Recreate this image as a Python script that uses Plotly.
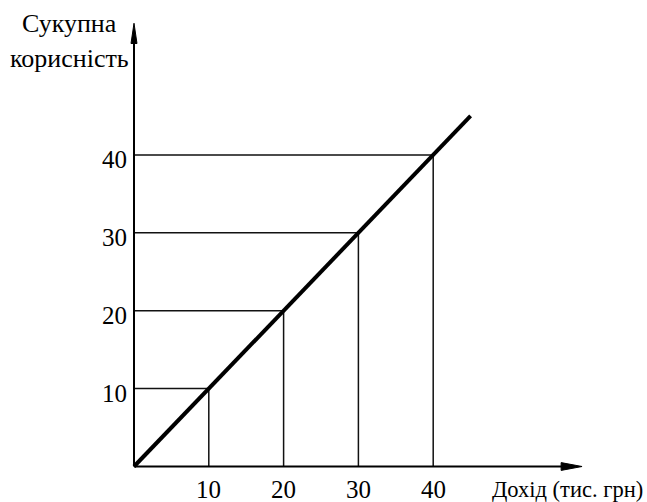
import plotly.graph_objects as go

# Income levels (thousand UAH) and the matching total utility
income = [10, 20, 30, 40]
utility = [10, 20, 30, 40]
tick_labels = ["10", "20", "30", "40"]

# Extent of the utility line and of the two axes (data units)
line_end = 45
x_axis_end = 59.9
y_axis_end = 56.9

FONT = "Liberation Serif"
W, H = 647, 502
OX, OY = 134, 466.5      # pixel position of the origin
SX, SY = 7.48, 7.79      # pixels per data unit

fig = go.Figure()

# guide lines from each point to both axes
for xv, yv in zip(income, utility):
    fig.add_trace(go.Scatter(x=[0, xv, xv], y=[yv, yv, 0], mode="lines",
                             line=dict(color="#111", width=1.5),
                             hoverinfo="skip", showlegend=False))

# total utility line
fig.add_trace(go.Scatter(x=[0, line_end], y=[0, line_end], mode="lines",
                         line=dict(color="black", width=4),
                         hoverinfo="skip", showlegend=False))

# axes with arrowheads
head_x_len, head_x_half = 2.8, 0.5
head_y_len, head_y_half = 2.6, 0.4
fig.add_trace(go.Scatter(x=[0, x_axis_end - 1], y=[0, 0], mode="lines",
                         line=dict(color="black", width=2),
                         hoverinfo="skip", showlegend=False))
fig.add_trace(go.Scatter(x=[0, 0], y=[0, y_axis_end - 1], mode="lines",
                         line=dict(color="black", width=2),
                         hoverinfo="skip", showlegend=False))
fig.add_trace(go.Scatter(
    x=[x_axis_end - head_x_len, x_axis_end, x_axis_end - head_x_len, x_axis_end - head_x_len],
    y=[head_x_half, 0, -head_x_half, head_x_half],
    mode="lines", fill="toself", fillcolor="black", line=dict(color="black", width=1),
    hoverinfo="skip", showlegend=False))
fig.add_trace(go.Scatter(
    x=[-head_y_half, 0, head_y_half, -head_y_half],
    y=[y_axis_end - head_y_len, y_axis_end, y_axis_end - head_y_len, y_axis_end - head_y_len],
    mode="lines", fill="toself", fillcolor="black", line=dict(color="black", width=1),
    hoverinfo="skip", showlegend=False))

# tick labels placed on the axes
tick_font = dict(family=FONT, size=25, color="black")
for xv, lab in zip(income, tick_labels):
    fig.add_annotation(x=xv, y=0, text=lab, showarrow=False, xanchor="center",
                       yanchor="middle", yshift=-23, font=tick_font)
for yv, lab in zip(utility, tick_labels):
    fig.add_annotation(x=0, y=yv, text=lab, showarrow=False, xanchor="right",
                       yanchor="middle", xshift=-5, yshift=-5, font=tick_font)

hidden = dict(visible=False, showgrid=False, zeroline=False, fixedrange=True)
fig.update_xaxes(range=[-OX / SX, (W - OX) / SX], **hidden)
fig.update_yaxes(range=[-(H - OY) / SY, OY / SY], **hidden)

# axis titles
fig.add_annotation(text="Сукупна", xref="paper", yref="paper", x=69 / W,
                   y=1 - 24 / H, xanchor="center", yanchor="middle",
                   showarrow=False, font=dict(family=FONT, size=26, color="black"))
fig.add_annotation(text="корисність", xref="paper", yref="paper", x=69 / W,
                   y=1 - 58 / H, xanchor="center", yanchor="middle",
                   showarrow=False, font=dict(family=FONT, size=26, color="black"))
fig.add_annotation(text="Дохід (тис. грн)", xref="paper", yref="paper", x=1 - 2 / W,
                   y=1 - 489 / H, xanchor="right", yanchor="middle",
                   showarrow=False, font=dict(family=FONT, size=22.5, color="black"))

fig.update_layout(width=W, height=H, margin=dict(l=0, r=0, t=0, b=0),
                  plot_bgcolor="white", paper_bgcolor="white")

fig.write_html("out.html")
